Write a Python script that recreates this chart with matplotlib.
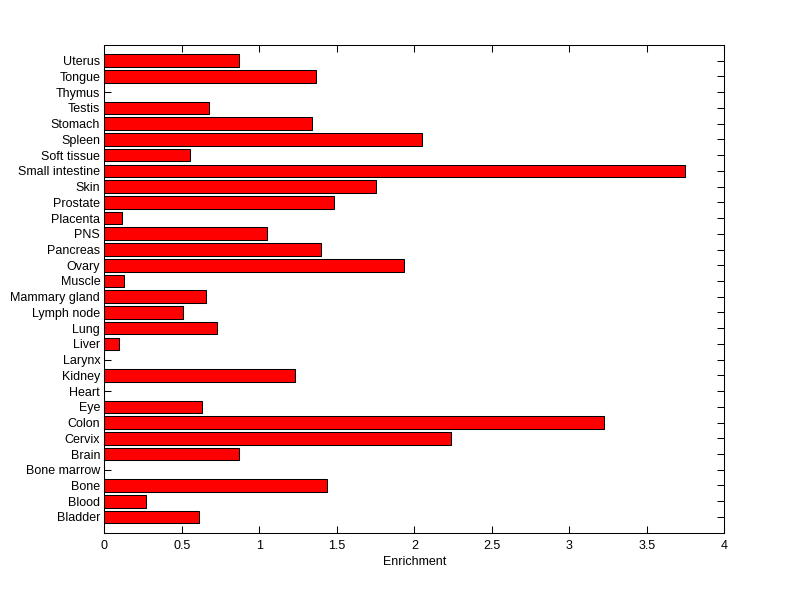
import matplotlib
matplotlib.use('Agg')
import matplotlib.pyplot as plt
import numpy as np

tissues = ["Bladder", "Blood", "Bone", "Bone marrow", "Brain", "Cervix", "Colon",
           "Eye", "Heart", "Kidney", "Larynx", "Liver", "Lung", "Lymph node",
           "Mammary gland", "Muscle", "Ovary", "Pancreas", "PNS", "Placenta",
           "Prostate", "Skin", "Small intestine", "Soft tissue", "Spleen",
           "Stomach", "Testis", "Thymus", "Tongue", "Uterus"]
enrichment = [0.609, 0.267, 1.439, 0.0, 0.871, 2.239, 3.226,
              0.628, 0.0, 1.232, 0.0, 0.097, 0.729, 0.510,
              0.658, 0.129, 1.935, 1.400, 1.052, 0.112,
              1.484, 1.755, 3.748, 0.555, 2.052,
              1.342, 0.677, 0.0, 1.368, 0.871]
xticks = [0, 0.5, 1, 1.5, 2, 2.5, 3, 3.5, 4]
xticklabels = ["0", "0.5", "1", "1.5", "2", "2.5", "3", "3.5", "4"]

plt.rcParams['font.family'] = ['Liberation Sans', 'DejaVu Sans']
plt.rcParams['font.size'] = 9

fig = plt.figure(figsize=(8, 5.99), dpi=100, facecolor='white')
ax = fig.add_axes([0.1304, 0.1107, 0.775, 0.8142])

pos = np.arange(1, len(tissues) + 1)
ax.barh(pos, enrichment, height=0.8, color='#ff0000', edgecolor='black', linewidth=0.75)

ax.set_xlim(0, 4)
ax.set_ylim(0, len(tissues) + 1)
ax.set_xticks(xticks)
ax.set_xticklabels(xticklabels)
ax.set_yticks(pos)
ax.set_yticklabels(tissues)
ax.set_axisbelow(True)
ax.tick_params(direction='in', length=5, width=0.75, top=True, right=True,
               labelsize=9, colors='black', pad=3)
ax.tick_params(axis='x', pad=5)
for spine in ax.spines.values():
    spine.set_linewidth(0.75)
ax.set_xlabel("Enrichment", fontsize=9, labelpad=3)

fig.savefig("out.png", dpi=100, facecolor='white')
